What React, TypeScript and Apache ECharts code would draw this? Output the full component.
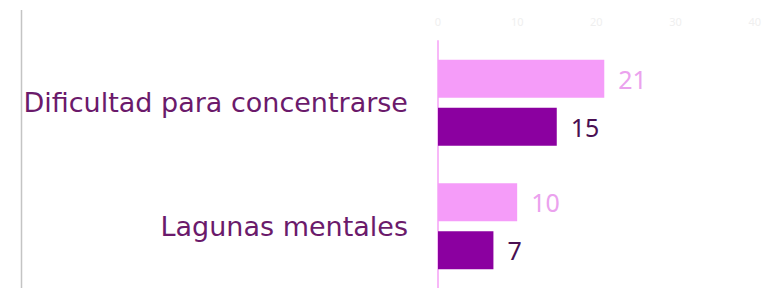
import React, { useEffect, useRef } from "react";
import * as echarts from "echarts";

const categories = ["Dificultad para concentrarse", "Lagunas mentales"];
const seriesLight = [21, 10];
const seriesDark = [15, 7];
const axisTicks = [0, 10, 20, 30, 40];

const FONT = "DejaVu Sans";
const NUM_FONT = "Noto Sans";

export default function App() {
  const ref = useRef<HTMLDivElement>(null);
  useEffect(() => {
    const chart = echarts.init(ref.current!, null, { renderer: "svg" });
    chart.setOption({
      animation: false,
      backgroundColor: "#ffffff",
      textStyle: { fontFamily: FONT },
      grid: { left: 438, right: 6, top: 41, bottom: -4, containLabel: false },
      graphic: [
        {
          type: "line",
          shape: { x1: 21.5, y1: 10, x2: 21.5, y2: 288 },
          style: { stroke: "#c4c4c4", lineWidth: 1.5 },
        },
      ],
      xAxis: {
        type: "value",
        position: "top",
        min: axisTicks[0],
        max: axisTicks[axisTicks.length - 1],
        interval: 10,
        axisLine: { show: false },
        axisTick: { show: false },
        splitLine: { show: false },
        axisLabel: {
          color: "#efefef",
          fontSize: 11,
          margin: 14,
          fontFamily: NUM_FONT,
        },
      },
      yAxis: {
        type: "category",
        inverse: true,
        data: categories,
        axisLine: { show: true, lineStyle: { color: "#f8b8f8", width: 2 } },
        axisTick: { show: false },
        axisLabel: {
          color: "#6b1a6b",
          fontSize: 27,
          margin: 30,
          fontFamily: FONT,
        },
      },
      series: [
        {
          type: "bar",
          data: seriesLight,
          barWidth: 38,
          barGap: "26%",
          itemStyle: { color: "#f59cf9" },
          label: {
            show: true,
            position: "right",
            distance: 14,
            color: "#eba2ee",
            fontSize: 25,
            fontFamily: NUM_FONT,
          },
        },
        {
          type: "bar",
          data: seriesDark,
          barWidth: 38,
          barGap: "26%",
          itemStyle: { color: "#8b00a0" },
          label: {
            show: true,
            position: "right",
            distance: 14,
            color: "#4a0f52",
            fontSize: 25,
            fontFamily: NUM_FONT,
          },
        },
      ],
    });
    return () => chart.dispose();
  }, []);
  return (
    <div
      ref={ref}
      style={{ position: "absolute", left: 0, top: 0, width: 764, height: 288 }}
    />
  );
}
